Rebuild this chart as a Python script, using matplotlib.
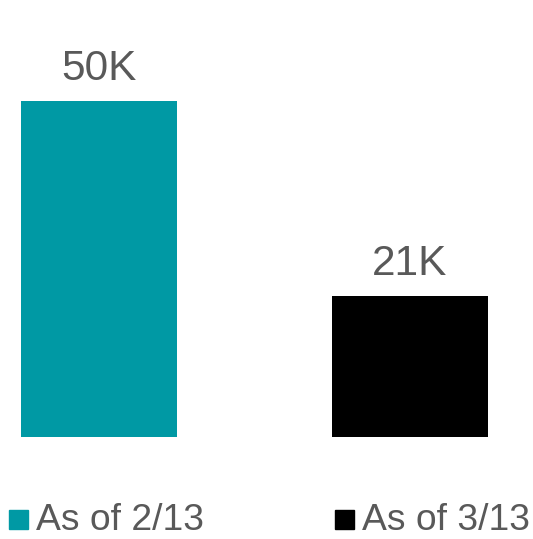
import matplotlib
matplotlib.use('Agg')
import matplotlib.pyplot as plt
from matplotlib.patches import Rectangle

plt.rcParams['font.family'] = ['Liberation Sans', 'DejaVu Sans']

# data
series = ['As of 2/13', 'As of 3/13']
values = [50, 21]
labels = ['50K', '21K']
colors = ['#0099A4', '#000000']
text_color = '#595959'

W, H = 533, 539
fig = plt.figure(figsize=(W / 100, H / 100), dpi=100)
ax = fig.add_axes([0, 102 / H, 1, 437 / H])

bars = ax.bar([0, 1], values, width=0.5016, color=colors)
ax.set_xlim(-99 / 311, 434 / 311)
ax.set_ylim(0, 437 / 336 * 50)
ax.axis('off')

for rect, lab in zip(bars, labels):
    ax.annotate(lab, (rect.get_x() + rect.get_width() / 2, rect.get_height()),
                xytext=(0, 15.1), textcoords='offset points',
                ha='center', va='baseline', fontsize=30.5, color=text_color)

# legend drawn by hand (square + text), positions in pixels
leg_x = [9, 335]
for x0, name, c in zip(leg_x, series, colors):
    fig.patches.append(Rectangle((x0 / W, 10 / H), 19 / W, 19 / H,
                                 transform=fig.transFigure, color=c))
    fig.text((x0 + 27) / W, 8.5 / H, name, fontsize=26.8, color=text_color,
             ha='left', va='baseline')

fig.savefig('out.png', dpi=100)
